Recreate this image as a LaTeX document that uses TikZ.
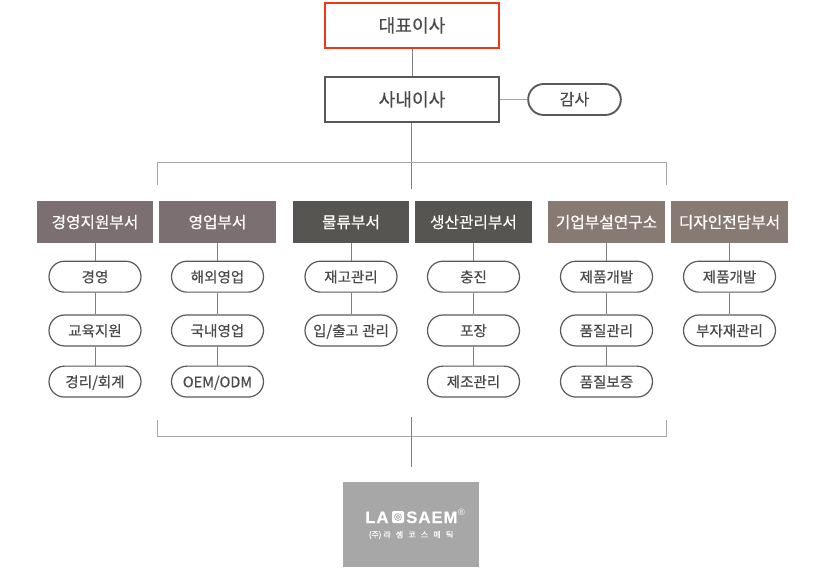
\documentclass[tikz,border=0pt]{standalone}
\usepackage{fontspec}
\setmainfont{Noto Sans CJK KR}[FakeBold=0.5]
\newfontfamily\logofont[LetterSpace=6,FakeBold=0.4]{Liberation Sans}
\newfontfamily\logosub[LetterSpace=42,FakeBold=1]{Noto Sans CJK KR}
\newfontfamily\markfont{Liberation Sans}
\usetikzlibrary{positioning}
\definecolor{redline}{HTML}{EA3A15}
\definecolor{darkline}{HTML}{595959}
\definecolor{textgray}{HTML}{4A4A4A}
\definecolor{mauve}{HTML}{7C6F72}
\definecolor{charcoal}{HTML}{565552}
\definecolor{taupe}{HTML}{877A72}
\definecolor{logogray}{HTML}{A6A7A6}
\tikzset{
  label text/.style={text height=.9em,text depth=0pt,inner sep=0pt},
  topbox/.style={label text,text height=1em,draw=darkline,line width=1.5pt,fill=white,text=textgray,minimum width=130pt,minimum height=33.5pt,font=\fontsize{13.6}{15}\selectfont},
  dept/.style={label text,fill=#1,text=white,minimum width=87.5pt,minimum height=31pt,font=\fontsize{11.8}{14}\selectfont},
  pill/.style={label text,text height=.85em,draw=darkline,line width=.9pt,fill=white,text=textgray,rounded corners=11.6pt,minimum width=69pt,minimum height=23.2pt,font=\fontsize{10.9}{13}\selectfont},
  logotext/.style={text=white,inner sep=0pt,anchor=base west,font=\logofont\bfseries\fontsize{12.5}{12}\selectfont},
  link/.style={draw=gray,line width=.75pt},
  bus/.style={draw=gray!70,line width=.75pt}
}
\begin{document}
\begin{tikzpicture}[x=.75pt,y=-.75pt]
\useasboundingbox (0,0) rectangle (820,571);
\node[topbox,draw=redline] (ceo) at (412,25.5) {대표이사};
\node[topbox] (director) at (412,99.5) {사내이사};
\node[pill,minimum width=69.5pt,font=\fontsize{12}{14}\selectfont,line width=1.4pt] (audit) at (574.5,99.5) {감사};

\node[dept=mauve] (d1) at (95,222) {경영지원부서};
\node[dept=mauve] (d2) at (217.5,222) {영업부서};
\node[dept=charcoal] (d3) at (351,222) {물류부서};
\node[dept=charcoal] (d4) at (473.5,222) {생산관리부서};
\node[dept=taupe] (d5) at (606.5,222) {기업부설연구소};
\node[dept=taupe] (d6) at (729.5,222) {디자인전담부서};

\node[pill,below=13.25pt of d1] (d1a) {경영};
\node[pill,below=16.25pt of d1a] (d1b) {교육지원};
\node[pill,below=14.25pt of d1b] (d1c) {경리/회계};
\node[pill,below=13.25pt of d2] (d2a) {해외영업};
\node[pill,below=16.25pt of d2a] (d2b) {국내영업};
\node[pill,below=14.25pt of d2b] (d2c) {OEM/ODM};
\node[pill,below=13.25pt of d3] (d3a) {재고관리};
\node[pill,below=16.25pt of d3a] (d3b) {입/출고 관리};
\node[pill,below=13.25pt of d4] (d4a) {충진};
\node[pill,below=16.25pt of d4a] (d4b) {포장};
\node[pill,below=14.25pt of d4b] (d4c) {제조관리};
\node[pill,below=13.25pt of d5] (d5a) {제품개발};
\node[pill,below=16.25pt of d5a] (d5b) {품질관리};
\node[pill,below=14.25pt of d5b] (d5c) {품질보증};
\node[pill,below=13.25pt of d6] (d6a) {제품개발};
\node[pill,below=16.25pt of d6a] (d6b) {부자재관리};

\node[fill=logogray,minimum width=102pt,minimum height=64pt,inner sep=0pt] (logo) at (411,524.5) {};
\node[logotext] (logoa) at (365,523) {LA};
\node[fill=white,rounded corners=1pt,minimum size=9pt,inner sep=0pt] (rose) at (398,517) {};
\draw[logogray,line width=.5pt] (rose) circle (2.6pt) (rose) circle (1.2pt);
\node[logotext] (logob) at (406,523) {SAEM};
\node[text=white,font=\markfont\fontsize{7}{7}\selectfont,inner sep=0pt] (logoc) at (461.5,512) {®};
\node[text=white,font=\fontsize{6}{7}\selectfont,inner sep=0pt] (logod) at (411,535) {(주) {\logosub 라 셈 코 스 메 틱}};

\coordinate (busc) at (411,162);
\coordinate (busl) at (157,162);
\coordinate (busr) at (666,162);
\coordinate (dropl) at (157,185);
\coordinate (dropr) at (666,185);
\coordinate (drop) at (411,189);
\coordinate (lowl) at (157,436);
\coordinate (lowr) at (666,436);
\coordinate (risel) at (157,420);
\coordinate (riser) at (666,420);
\coordinate (rise) at (411,417);
\coordinate (stem) at (411,467);

\path[link] (ceo) edge (director);
\path[bus] (director) edge (audit);
\path[link] (director.south-|busc) edge (drop);
\draw[bus] (dropl) -- (busl) -- (busr) -- (dropr);
\draw[bus] (risel) -- (lowl) -- (lowr) -- (riser);
\path[link] (rise) edge (stem);
\foreach \a/\b in {d1/d1a,d1a/d1b,d1b/d1c,d2/d2a,d2a/d2b,d2b/d2c,d3/d3a,d3a/d3b,d4/d4a,d4a/d4b,d4b/d4c,d5/d5a,d5a/d5b,d5b/d5c,d6/d6a,d6a/d6b}
  \path[link] (\a) edge (\b);
\end{tikzpicture}
\end{document}
